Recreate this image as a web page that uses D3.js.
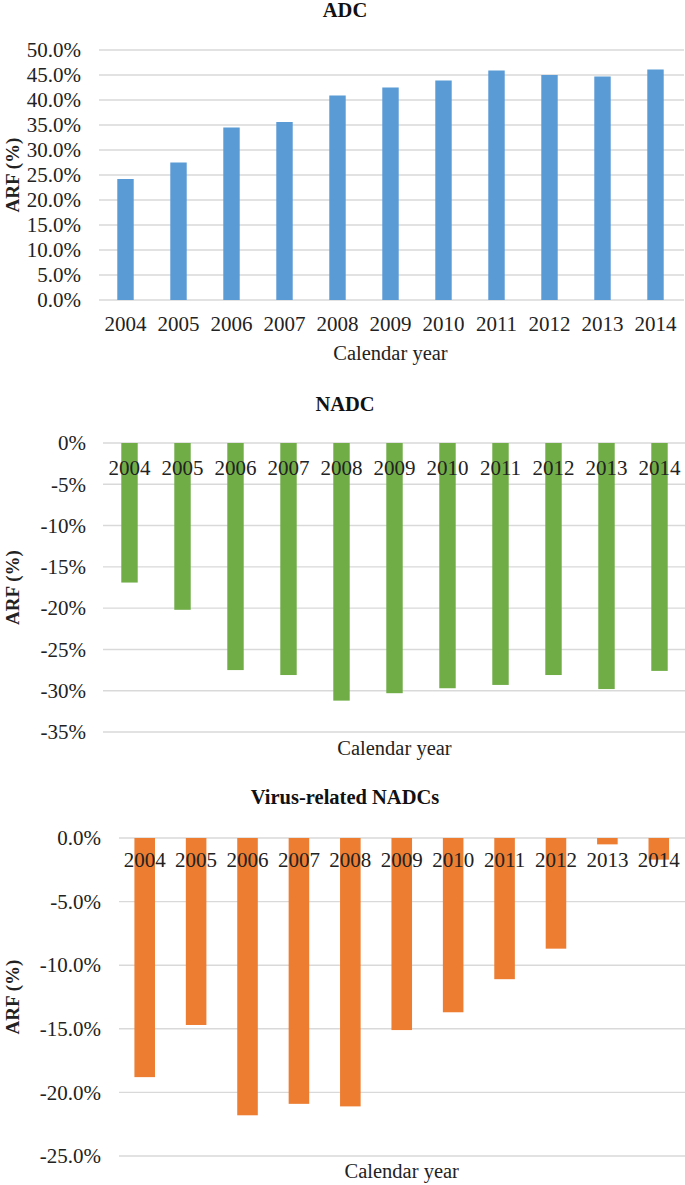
<!DOCTYPE html>
<html>
<head>
<meta charset="utf-8">
<script src="https://cdn.jsdelivr.net/npm/d3@7"></script>
<style>
  html, body { margin: 0; padding: 0; background: #fff; }
  svg { display: block; }
</style>
</head>
<body>
<svg id="chart" width="685" height="1185"></svg>
<script>
const years = ["2004","2005","2006","2007","2008","2009","2010","2011","2012","2013","2014"];
const adcValues = [24.2, 27.5, 34.5, 35.6, 40.9, 42.5, 43.9, 45.9, 45.0, 44.7, 46.1];
const nadcValues = [-16.9, -20.2, -27.5, -28.1, -31.2, -30.3, -29.7, -29.3, -28.1, -29.8, -27.6];
const virusValues = [-18.8, -14.7, -21.8, -20.9, -21.1, -15.1, -13.7, -11.1, -8.7, -0.5, -1.7];
const adcTicks = [0, 5, 10, 15, 20, 25, 30, 35, 40, 45, 50];
const nadcTicks = [0, -5, -10, -15, -20, -25, -30, -35];
const virusTicks = [0, -5, -10, -15, -20, -25];
const titles = ["ADC", "NADC", "Virus-related NADCs"];
const yTitle = "ARF (%)";
const xTitle = "Calendar year";

const svg = d3.select("#chart");
const serif = "'Liberation Serif', 'Times New Roman', serif";

function panel(cfg) {
  const g = svg.append("g");
  const x = d3.scaleBand().domain(years).range(cfg.xr).paddingInner(cfg.pad).paddingOuter(cfg.pad / 2);
  const y = d3.scaleLinear().domain(cfg.dom).range(cfg.yr);

  // gridlines
  g.append("g").selectAll("line").data(cfg.ticks).join("line")
    .attr("x1", cfg.xr[0]).attr("x2", cfg.gridRight)
    .attr("y1", d => y(d)).attr("y2", d => y(d))
    .attr("stroke", "#d9d9d9").attr("stroke-width", 1.4);

  // y tick labels via axis
  const ya = g.append("g").attr("transform", `translate(${cfg.yLabelRight},0)`)
    .call(d3.axisLeft(y).tickValues(cfg.ticks).tickSize(0).tickPadding(0).tickFormat(cfg.fmt));
  ya.select(".domain").remove();
  ya.selectAll("text").attr("font-family", serif).attr("font-size", 21).attr("fill", "#222");

  // bars
  g.append("g").selectAll("rect").data(cfg.values).join("rect")
    .attr("x", (d, i) => x(years[i]))
    .attr("width", x.bandwidth())
    .attr("y", d => Math.min(y(d), y(0)))
    .attr("height", d => Math.abs(y(d) - y(0)))
    .attr("fill", cfg.color);

  // x labels
  const xa = g.append("g").attr("transform", `translate(0,${cfg.xLabelY})`)
    .call(d3.axisBottom(x).tickSize(0).tickPadding(0));
  xa.select(".domain").remove();
  xa.selectAll("text").attr("y", 0).attr("dy", "0.35em")
    .attr("font-family", serif).attr("font-size", 21).attr("fill", "#222");

  // title
  g.append("text").attr("x", 345).attr("y", cfg.titleY).attr("text-anchor", "middle")
    .attr("font-family", serif).attr("font-weight", "bold").attr("font-size", 20.5).attr("fill", "#111")
    .text(cfg.title);

  // y axis title
  const yc = (cfg.yr[0] + cfg.yr[1]) / 2;
  g.append("text").attr("transform", `translate(19,${yc}) rotate(-90)`).attr("text-anchor", "middle")
    .attr("font-family", serif).attr("font-weight", "bold").attr("font-size", 19).attr("fill", "#222")
    .text(yTitle);

  // x axis title
  g.append("text").attr("x", (cfg.xr[0] + cfg.xr[1]) / 2).attr("y", cfg.xTitleY).attr("text-anchor", "middle")
    .attr("font-family", serif).attr("font-size", 20.5).attr("fill", "#222")
    .text(xTitle);
}

panel({
  title: titles[0], values: adcValues, ticks: adcTicks, color: "#5b9bd5",
  xr: [99, 682], gridRight: 684, pad: 0.69, dom: [0, 50], yr: [300, 50],
  fmt: d => d.toFixed(1) + "%", yLabelRight: 81, xLabelY: 324, titleY: 17, xTitleY: 360
});
panel({
  title: titles[1], values: nadcValues, ticks: nadcTicks, color: "#70ad47",
  xr: [103, 686], gridRight: 685, pad: 0.69, dom: [-35, 0], yr: [732, 443],
  fmt: d => d.toFixed(0) + "%", yLabelRight: 86, xLabelY: 468, titleY: 411, xTitleY: 755
});
panel({
  title: titles[2], values: virusValues, ticks: virusTicks, color: "#ed7d31",
  xr: [119, 684.5], gridRight: 685, pad: 0.6, dom: [-25, 0], yr: [1156, 838],
  fmt: d => d.toFixed(1) + "%", yLabelRight: 101, xLabelY: 860, titleY: 804, xTitleY: 1178
});
</script>
</body>
</html>
